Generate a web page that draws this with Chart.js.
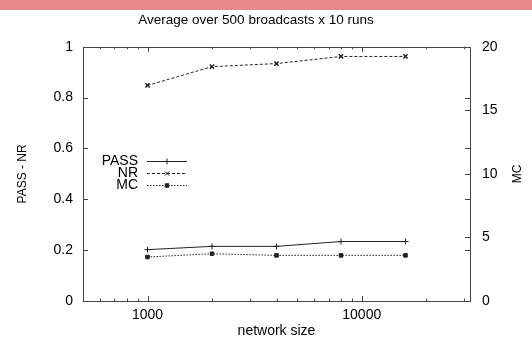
<!DOCTYPE html>
<html>
<head>
<meta charset="utf-8">
<script src="https://cdn.jsdelivr.net/npm/chart.js@4/dist/chart.umd.min.js"></script>
<style>
  html, body { margin: 0; padding: 0; background: #fff; }
  #wrap { position: relative; width: 532px; height: 341px; }
  #band { position: absolute; left: 0; top: 0; width: 532px; height: 10px; background: #e78989; }
</style>
</head>
<body>
<div id="wrap">
  <canvas id="passChart" width="532" height="341"></canvas>
  <div id="band"></div>
</div>
<script>
// Data
const networkSizes = [1000, 2000, 4000, 8000, 16000];
const passValues = [0.202, 0.215, 0.215, 0.234, 0.234];
const nrValues = [0.848, 0.922, 0.934, 0.962, 0.962];
const mcValues = [3.46, 3.72, 3.59, 3.59, 3.59];

// Tick values
const xMajorTicks = [1000, 10000];
const xMinorTicks = [600, 700, 800, 900, 2000, 3000, 4000, 5000, 6000, 7000, 8000, 9000, 20000, 30000];
const yTicks = [0, 0.2, 0.4, 0.6, 0.8, 1];
const y2Ticks = [0, 5, 10, 15, 20];

const ink = '#222';
const frameInk = '#444';

function toPoints(values) {
    return networkSizes.map((n, i) => ({ x: n, y: values[i] }));
}

// gnuplot style frame with inward ticks
const framePlugin = {
    id: 'framePlugin',
    afterDraw: function(chart) {
        const ctx = chart.ctx;
        const a = chart.chartArea;
        const xs = chart.scales.x, ys = chart.scales.y, y2s = chart.scales.y2;
        ctx.save();
        ctx.strokeStyle = frameInk;
        ctx.lineWidth = 1;
        ctx.strokeRect(Math.round(a.left) + 0.5, Math.round(a.top) + 0.5,
            Math.round(a.right - a.left), Math.round(a.bottom - a.top));
        ctx.beginPath();
        function xTick(v, len) {
            const px = Math.round(xs.getPixelForValue(v)) + 0.5;
            ctx.moveTo(px, a.bottom); ctx.lineTo(px, a.bottom - len);
            ctx.moveTo(px, a.top); ctx.lineTo(px, a.top + len);
        }
        xMajorTicks.forEach(v => xTick(v, 5));
        xMinorTicks.forEach(v => xTick(v, 2.5));
        yTicks.forEach(v => {
            const py = Math.round(ys.getPixelForValue(v)) + 0.5;
            ctx.moveTo(a.left, py); ctx.lineTo(a.left + 5, py);
            ctx.moveTo(a.right, py); ctx.lineTo(a.right - 5, py);
        });
        y2Ticks.forEach(v => {
            const py = Math.round(y2s.getPixelForValue(v)) + 0.5;
            ctx.moveTo(a.right, py); ctx.lineTo(a.right - 5, py);
        });
        ctx.stroke();

        // right axis title, read bottom to top like the left one
        ctx.fillStyle = '#000';
        ctx.font = '12px "Liberation Sans", Arial, sans-serif';
        ctx.textAlign = 'center';
        ctx.textBaseline = 'middle';
        ctx.translate(518, (a.top + a.bottom) / 2);
        ctx.rotate(-Math.PI / 2);
        ctx.fillText(y2s.options.title.text, 0, 0);
        ctx.restore();
    }
};

// legend drawn gnuplot style: label, then sample line
const keyPlugin = {
    id: 'keyPlugin',
    afterDatasetsDraw: function(chart) {
        const ctx = chart.ctx;
        const rows = [161, 173, 185];
        ctx.save();
        chart.data.datasets.forEach((ds, i) => {
            const y = rows[i];
            ctx.fillStyle = '#000';
            ctx.font = '14px "Liberation Sans", Arial, sans-serif';
            ctx.textAlign = 'right';
            ctx.textBaseline = 'middle';
            ctx.fillText(ds.label, 138, y);
            ctx.strokeStyle = ds.borderColor;
            ctx.lineWidth = ds.borderWidth;
            ctx.setLineDash(ds.borderDash || []);
            ctx.beginPath();
            ctx.moveTo(147, y + 0.5);
            ctx.lineTo(187, y + 0.5);
            ctx.stroke();
            ctx.setLineDash([]);
            if (Chart.helpers && Chart.helpers.drawPoint) {
                ctx.fillStyle = ds.pointBackgroundColor;
                ctx.strokeStyle = ds.pointBorderColor;
                ctx.lineWidth = 1;
                Chart.helpers.drawPoint(ctx, {
                    pointStyle: ds.pointStyle,
                    radius: ds.pointRadius,
                    rotation: 0,
                    borderWidth: 1
                }, 167, y + 0.5);
            }
        });
        ctx.restore();
    }
};

const ctx = document.getElementById('passChart').getContext('2d');
const passChart = new Chart(ctx, {
    type: 'line',
    data: {
        datasets: [{
            label: 'PASS',
            data: toPoints(passValues),
            yAxisID: 'y',
            borderColor: ink,
            borderWidth: 1,
            pointStyle: 'cross',
            pointRadius: 3,
            pointBorderColor: ink,
            pointBackgroundColor: ink,
            pointBorderWidth: 1
        }, {
            label: 'NR',
            data: toPoints(nrValues),
            yAxisID: 'y',
            borderColor: ink,
            borderWidth: 1,
            borderDash: [3, 2],
            pointStyle: 'crossRot',
            pointRadius: 3,
            pointBorderColor: ink,
            pointBackgroundColor: ink,
            pointBorderWidth: 1.5
        }, {
            label: 'MC',
            data: toPoints(mcValues),
            yAxisID: 'y2',
            borderColor: ink,
            borderWidth: 1,
            borderDash: [1.5, 1.5],
            pointStyle: 'rect',
            pointRadius: 2.5,
            pointBorderColor: ink,
            pointBackgroundColor: ink,
            pointBorderWidth: 1
        }]
    },
    options: {
        responsive: false,
        animation: false,
        layout: { padding: { left: 0, right: 20, top: 0, bottom: 0 } },
        scales: {
            x: {
                type: 'logarithmic',
                min: 500,
                max: 32000,
                grid: { display: false, drawTicks: false },
                border: { display: false },
                afterBuildTicks: function(scale) {
                    scale.ticks = xMajorTicks.map(v => ({ value: v }));
                },
                afterFit: function(scale) { scale.height = 40; },
                ticks: {
                    padding: 6,
                    color: '#000',
                    maxRotation: 0,
                    font: { family: '"Liberation Sans", Arial, sans-serif', size: 14 },
                    callback: function(value) { return String(value); }
                },
                title: {
                    display: true,
                    text: 'network size',
                    color: '#000',
                    padding: { top: 0, bottom: 1 },
                    font: { family: '"Liberation Sans", Arial, sans-serif', size: 14 }
                }
            },
            y: {
                position: 'left',
                min: 0,
                max: 1,
                grid: { display: false, drawTicks: false },
                border: { display: false },
                afterBuildTicks: function(scale) {
                    scale.ticks = yTicks.map(v => ({ value: v }));
                },
                afterFit: function(scale) { scale.width = 83; },
                ticks: {
                    padding: 10,
                    color: '#000',
                    font: { family: '"Liberation Sans", Arial, sans-serif', size: 14 },
                    callback: function(value) { return String(Math.round(value * 10) / 10); }
                },
                title: {
                    display: true,
                    text: 'PASS - NR',
                    color: '#000',
                    padding: { top: 15, bottom: 0 },
                    font: { family: '"Liberation Sans", Arial, sans-serif', size: 12 }
                }
            },
            y2: {
                position: 'right',
                min: 0,
                max: 20,
                grid: { display: false, drawTicks: false },
                border: { display: false },
                afterBuildTicks: function(scale) {
                    scale.ticks = y2Ticks.map(v => ({ value: v }));
                },
                afterFit: function(scale) { scale.width = 42; },
                ticks: {
                    padding: 12,
                    color: '#000',
                    font: { family: '"Liberation Sans", Arial, sans-serif', size: 14 }
                },
                title: { display: false, text: 'MC' }
            }
        },
        plugins: {
            legend: { display: false },
            tooltip: { enabled: false },
            title: {
                display: true,
                text: 'Average over 500 broadcasts x 10 runs',
                color: '#000',
                padding: { top: 12, bottom: 18.6 },
                font: { family: '"Liberation Sans", Arial, sans-serif', size: 13.5, weight: 'normal' }
            }
        }
    },
    plugins: [framePlugin, keyPlugin]
});
</script>
</body>
</html>
